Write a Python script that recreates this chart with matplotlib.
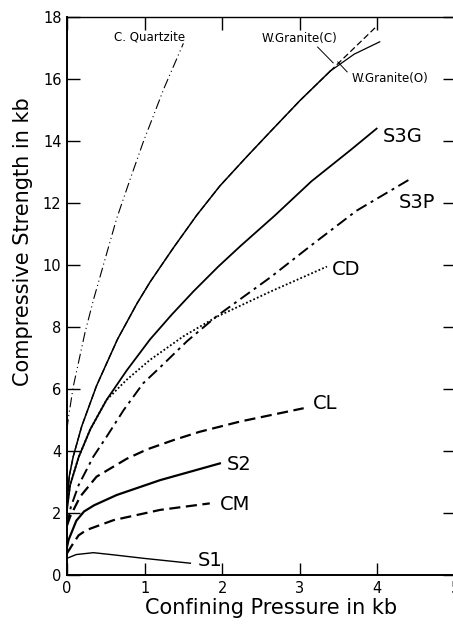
import numpy as np
import matplotlib.pyplot as plt

# strength curves, confining pressure (kb) vs compressive strength (kb)
quartzite_p = [0.0, 0.02, 0.08, 0.23, 0.34, 0.64, 0.81, 0.98, 1.25, 1.5]
quartzite_s = [4.7, 5.1, 6.07, 7.8, 8.87, 11.5, 12.74, 13.95, 15.7, 17.15]

granite_p = [0.0, 0.03, 0.08, 0.19, 0.38, 0.65, 0.9, 1.07, 1.37, 1.67,
             1.97, 2.3, 2.62, 3.0, 3.39]
granite_s = [2.4, 3.2, 3.82, 4.8, 6.1, 7.6, 8.75, 9.45, 10.55, 11.6,
             12.55, 13.45, 14.3, 15.3, 16.25]
granite_c_tail_p = [3.39, 3.99]
granite_c_tail_s = [16.25, 17.7]
granite_o_tail_p = [3.39, 3.7, 4.03]
granite_o_tail_s = [16.25, 16.8, 17.2]

s3g_p = [0.0, 0.04, 0.15, 0.3, 0.51, 0.77, 1.07, 1.35, 1.63, 1.95, 2.23,
         2.68, 3.15, 3.65, 3.99]
s3g_s = [2.1, 2.9, 3.8, 4.7, 5.65, 6.6, 7.6, 8.4, 9.15, 9.95, 10.6,
         11.6, 12.7, 13.7, 14.4]

s3p_p = [0.0, 0.05, 0.15, 0.34, 0.51, 0.73, 0.98, 1.2, 1.55, 1.93, 2.62,
         3.13, 3.73, 4.4]
s3p_s = [1.6, 2.2, 2.9, 3.82, 4.46, 5.32, 6.18, 6.7, 7.55, 8.35, 9.6,
         10.6, 11.75, 12.74]

cd_p = [0.0, 0.04, 0.15, 0.3, 0.51, 0.77, 1.07, 1.5, 1.93, 2.62, 3.35]
cd_s = [2.2, 2.9, 3.8, 4.7, 5.65, 6.3, 6.94, 7.7, 8.33, 9.14, 9.95]

cl_p = [0.0, 0.04, 0.17, 0.38, 0.77, 1.03, 1.37, 1.71, 2.23, 3.05]
cl_s = [1.6, 1.88, 2.53, 3.17, 3.75, 4.05, 4.35, 4.62, 4.95, 5.38]

s2_p = [0.0, 0.02, 0.12, 0.22, 0.35, 0.64, 1.2, 1.97]
s2_s = [0.9, 1.13, 1.75, 2.05, 2.25, 2.58, 3.06, 3.6]

cm_p = [0.0, 0.08, 0.15, 0.25, 0.6, 1.2, 1.84]
cm_s = [0.7, 1.02, 1.28, 1.45, 1.77, 2.1, 2.31]

s1_p = [0.0, 0.12, 0.34, 0.6, 0.98, 1.59]
s1_s = [0.54, 0.66, 0.72, 0.65, 0.54, 0.38]

fig = plt.figure(figsize=(4.53, 6.25), dpi=100)
ax = fig.add_axes([67 / 453, 50 / 625, 388 / 453, 558 / 625])

k = 'black'
ax.plot(quartzite_p, quartzite_s, color=k, lw=0.8, ls=(0, (9, 3, 1, 3, 1, 3)))
ax.plot(granite_p, granite_s, color=k, lw=1.1)
ax.plot(granite_p, granite_s, color=k, lw=0.9, ls=(0, (5, 2)))
ax.plot(granite_c_tail_p, granite_c_tail_s, color=k, lw=0.9, ls=(0, (5, 2.5)))
ax.plot(granite_o_tail_p, granite_o_tail_s, color=k, lw=0.9)
ax.plot(s3g_p, s3g_s, color=k, lw=1.3)
ax.plot(s3p_p, s3p_s, color=k, lw=1.4, ls=(0, (6, 2.5, 1.5, 2.5)))
ax.plot(cd_p, cd_s, color=k, lw=1.3, ls=(0, (1, 1.2)))
ax.plot(cl_p, cl_s, color=k, lw=1.6, ls=(0, (5, 2.5)))
ax.plot(s2_p, s2_s, color=k, lw=1.6)
ax.plot(cm_p, cm_s, color=k, lw=1.6, ls=(0, (5, 2.5)))
ax.plot(s1_p, s1_s, color=k, lw=1.0)

big = dict(fontsize=14, va='center', ha='left')
ax.text(4.07, 14.16, 'S3G', **big)
ax.text(4.27, 12.03, 'S3P', **big)
ax.text(3.41, 9.84, 'CD', **big)
ax.text(3.17, 5.52, 'CL', **big)
ax.text(2.06, 3.55, 'S2', **big)
ax.text(1.97, 2.26, 'CM', **big)
ax.text(1.68, 0.48, 'S1', **big)

small = dict(fontsize=8.5, va='center', ha='center')
ax.text(1.07, 17.35, 'C. Quartzite', **small)
ax.text(3.0, 17.32, 'W.Granite(C)', **small)
ax.text(4.16, 16.03, 'W.Granite(O)', **small)
ax.plot([3.23, 3.43], [17.03, 16.52], color=k, lw=0.7)
ax.plot([3.61, 3.49], [16.23, 16.55], color=k, lw=0.7)

ax.set_xlim(0, 5)
ax.set_ylim(0, 18)
ax.set_xticks(range(0, 6))
ax.set_yticks(range(0, 19, 2))
ax.tick_params(direction='in', length=9, width=1, labelsize=10.5,
               top=True, right=True, pad=4)
for side in ['left', 'bottom']:
    ax.spines[side].set_linewidth(1.4)
for side in ['top', 'right']:
    ax.spines[side].set_linewidth(1.0)

fig.text(271 / 453, 1 - 608 / 625, 'Confining Pressure in kb',
         fontsize=15, ha='center', va='center')
fig.text(23 / 453, 1 - 242 / 625, 'Compressive Strength in kb',
         fontsize=15, ha='center', va='center', rotation=90)

fig.savefig('out.png', dpi=100)
